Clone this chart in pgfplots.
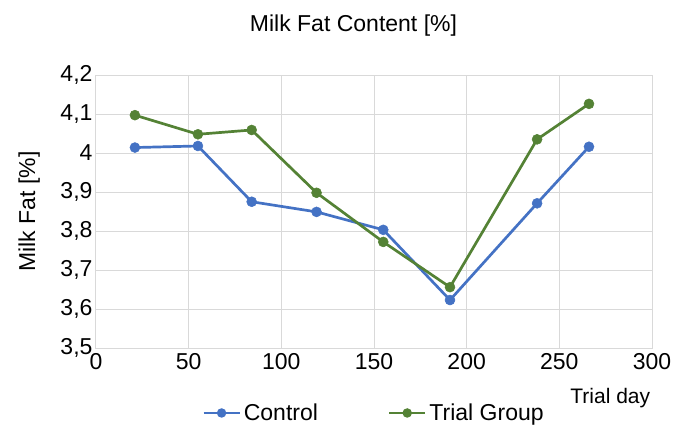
\documentclass[border=0pt]{standalone}
\usepackage{pgfplots}
\pgfplotsset{compat=1.18}
\usepackage{fontspec}
\setmainfont{Liberation Sans}
\definecolor{cblue}{HTML}{4472C4}
\definecolor{cgreen}{HTML}{548235}
\definecolor{gridc}{HTML}{D9D9D9}
\newcommand{\bigf}{\fontsize{23}{27}\selectfont}
\newcommand{\midf}{\fontsize{21}{25}\selectfont}
\begin{document}
\begin{tikzpicture}
\path[use as bounding box] (-96pt,-89pt) rectangle (600pt,348pt);
\begin{axis}[
  at={(0pt,0pt)}, anchor=south west,
  scale only axis, width=556pt, height=273pt,
  xmin=0, xmax=300, ymin=3.5, ymax=4.2,
  xtick={0,50,100,150,200,250,300},
  ytick={3.5,3.6,3.7,3.8,3.9,4,4.1,4.2},
  grid=major,
  major grid style={draw=gridc, line width=1pt},
  axis line style={draw=gridc, line width=1pt},
  major tick length=0pt,
  tick style={draw=none},
  /pgf/number format/.cd, use comma, fixed, precision=1, assume math mode=true,
  /pgfplots/.cd,
  tick label style={font=\bigf, text=black},
  xticklabel style={yshift=-2pt},
  title={Milk Fat Content [\%]},
  title style={font=\bigf, at={(axis description cs:0.4631,1.139)}, anchor=base},
  ylabel={Milk Fat [\%]},
  ylabel style={font=\bigf, at={(axis description cs:-0.1097,0.5)}, anchor=base},
  xlabel={Trial day},
  xlabel style={font=\midf, at={(axis description cs:1.003,-0.2051)}, anchor=base east},
  legend columns=2,
  legend style={draw=none, fill=none, font=\bigf,
    at={(axis description cs:0.5,-0.238)}, anchor=center,
    /tikz/every odd column/.append style={column sep=1pt},
    /tikz/every even column/.append style={column sep=68pt},
    nodes={inner sep=2pt}},
]
\addplot[cblue, line width=2.7pt, mark=*, mark size=5pt,
  mark options={solid, line width=0.5pt, fill=cblue, draw=cblue},
  legend image code/.code={\draw[cblue,line width=2.5pt](0pt,0pt)--(36pt,0pt);
     \fill[cblue](18pt,0pt) circle (3.3pt);}]
coordinates {(21,4.014) (55,4.018) (84,3.875) (119,3.849) (155,3.803) (191,3.623) (238,3.871) (266,4.016)};
\addlegendentry{Control}
\addplot[cgreen, line width=2.7pt, mark=*, mark size=5pt,
  mark options={solid, line width=0.5pt, fill=cgreen, draw=cgreen},
  legend image code/.code={\draw[cgreen,line width=2.5pt](0pt,0pt)--(36pt,0pt);
     \fill[cgreen](18pt,0pt) circle (3.3pt);}]
coordinates {(21,4.097) (55,4.048) (84,4.059) (119,3.898) (155,3.772) (191,3.656) (238,4.035) (266,4.126)};
\addlegendentry{Trial Group}
\end{axis}
\end{tikzpicture}
\end{document}
